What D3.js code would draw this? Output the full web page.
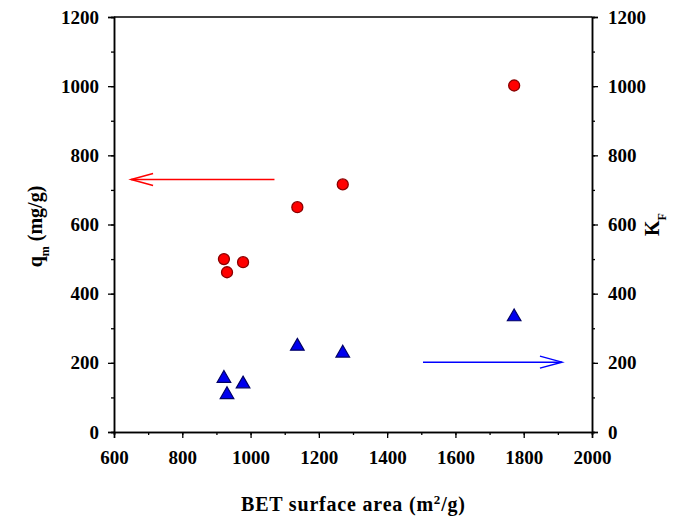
<!DOCTYPE html>
<html>
<head>
<meta charset="utf-8">
<script src="https://cdn.jsdelivr.net/npm/d3@7"></script>
<style>
  body { margin: 0; background: #fff; }
  text { font-family: "Liberation Serif", "DejaVu Serif", serif; font-weight: bold; }
</style>
</head>
<body>
<div id="chart"></div>
<script>
// BET surface area (m2/g) for each carbon sample
var bet = [922, 931, 978, 1137, 1270, 1772];
// q_m (mg/g), left axis
var qm = [500, 462, 491, 650, 716, 1002];
// K_F, right axis
var kf = [155, 108, 139, 248, 228, 333];

var xTicks = [600, 800, 1000, 1200, 1400, 1600, 1800, 2000];
var yTicks = [0, 200, 400, 600, 800, 1000, 1200];

// arrows telling which axis each series uses: [x1, x2, y] in data units
var arrowQ = [1070, 650, 730];
var arrowK = [1505, 1912, 202];

var W = 692, H = 520;
var margin = {top: 17, right: 100, bottom: 88, left: 114},
    width = W - margin.left - margin.right,
    height = H - margin.top - margin.bottom;

var svg = d3.select("#chart").append("svg")
    .attr("width", W).attr("height", H)
  .append("g")
    .attr("transform", "translate(" + margin.left + "," + margin.top + ")");

var x = d3.scaleLinear().domain([600, 2000]).range([0, width]);
var yL = d3.scaleLinear().domain([0, 1200]).range([height, 0]);
var yR = d3.scaleLinear().domain([0, 1200]).range([height, 0]);

function minor(lo, hi, step) { return d3.range(lo, hi + 1, step); }

// minor ticks first, then major axes
svg.append("g").attr("transform", "translate(0," + height + ")")
  .call(d3.axisBottom(x).tickValues(minor(600, 2000, 100)).tickSize(3).tickFormat(""));
svg.append("g")
  .call(d3.axisLeft(yL).tickValues(minor(0, 1200, 100)).tickSize(3).tickFormat(""));
svg.append("g").attr("transform", "translate(" + width + ",0)")
  .call(d3.axisRight(yR).tickValues(minor(0, 1200, 100)).tickSize(3).tickFormat(""));

svg.append("g").attr("transform", "translate(0," + height + ")")
  .call(d3.axisBottom(x).tickValues(xTicks).tickSize(6).tickPadding(13).tickFormat(d3.format("d")));
svg.append("g")
  .call(d3.axisLeft(yL).tickValues(yTicks).tickSize(6).tickPadding(9).tickFormat(d3.format("d")));
svg.append("g").attr("transform", "translate(" + width + ",0)")
  .call(d3.axisRight(yR).tickValues(yTicks).tickSize(6).tickPadding(10).tickFormat(d3.format("d")));

svg.selectAll(".tick text").attr("font-size", "19px").attr("fill", "#000")
  .style("font-family", "'Liberation Serif', serif").style("font-weight", "bold");
svg.selectAll(".domain").attr("stroke", "#000").attr("stroke-width", 1.5);
svg.selectAll(".tick line").attr("stroke", "#000").attr("stroke-width", 1.3);

// top border
svg.append("line").attr("x1", 0).attr("x2", width).attr("y1", 0).attr("y2", 0)
  .attr("stroke", "#000").attr("stroke-width", 1.5);

// arrows
function arrow(a, color) {
  var x1 = x(a[0]), x2 = x(a[1]), yy = yL(a[2]);
  var dir = x2 > x1 ? 1 : -1;
  svg.append("line").attr("x1", x1).attr("x2", x2).attr("y1", yy).attr("y2", yy)
    .attr("stroke", color).attr("stroke-width", 1.5);
  svg.append("path")
    .attr("d", "M" + (x2 - dir * 22) + "," + (yy - 6) + "L" + x2 + "," + yy + "L" + (x2 - dir * 22) + "," + (yy + 6))
    .attr("fill", "none").attr("stroke", color).attr("stroke-width", 1.5);
}
arrow(arrowQ, "#ff0000");
arrow(arrowK, "#0000ff");

// q_m circles
svg.selectAll(".qm").data(bet).enter().append("circle")
  .attr("class", "qm")
  .attr("cx", function(d) { return x(d); })
  .attr("cy", function(d, i) { return yL(qm[i]); })
  .attr("r", 5.5)
  .attr("fill", "#ff0000").attr("stroke", "#8b0000").attr("stroke-width", 1.3);

// K_F triangles
var tri = d3.symbol().type(d3.symbolTriangle).size(80);
svg.selectAll(".kf").data(bet).enter().append("path")
  .attr("class", "kf")
  .attr("d", tri)
  .attr("transform", function(d, i) { return "translate(" + x(d) + "," + yR(kf[i]) + ")"; })
  .attr("fill", "#0000ee").attr("stroke", "#000066").attr("stroke-width", 1.2);

// axis titles
svg.append("text")
  .attr("x", width / 2).attr("y", height + 79)
  .attr("text-anchor", "middle").attr("font-size", "20px")
  .attr("textLength", 224).attr("lengthAdjust", "spacing")
  .html("BET surface area (m<tspan baseline-shift='super' font-size='13px'>2</tspan>/g)");

svg.append("text")
  .attr("transform", "translate(" + (-72) + "," + (height / 2 + 2) + ") rotate(-90)")
  .attr("text-anchor", "middle").attr("font-size", "20px")
  .html("q<tspan baseline-shift='sub' font-size='12px'>m</tspan> (mg/g)");

svg.append("text")
  .attr("transform", "translate(" + (width + 67) + "," + (height / 2) + ") rotate(-90)")
  .attr("text-anchor", "middle").attr("font-size", "20px")
  .html("K<tspan baseline-shift='sub' font-size='12px'>F</tspan>");
</script>
</body>
</html>
